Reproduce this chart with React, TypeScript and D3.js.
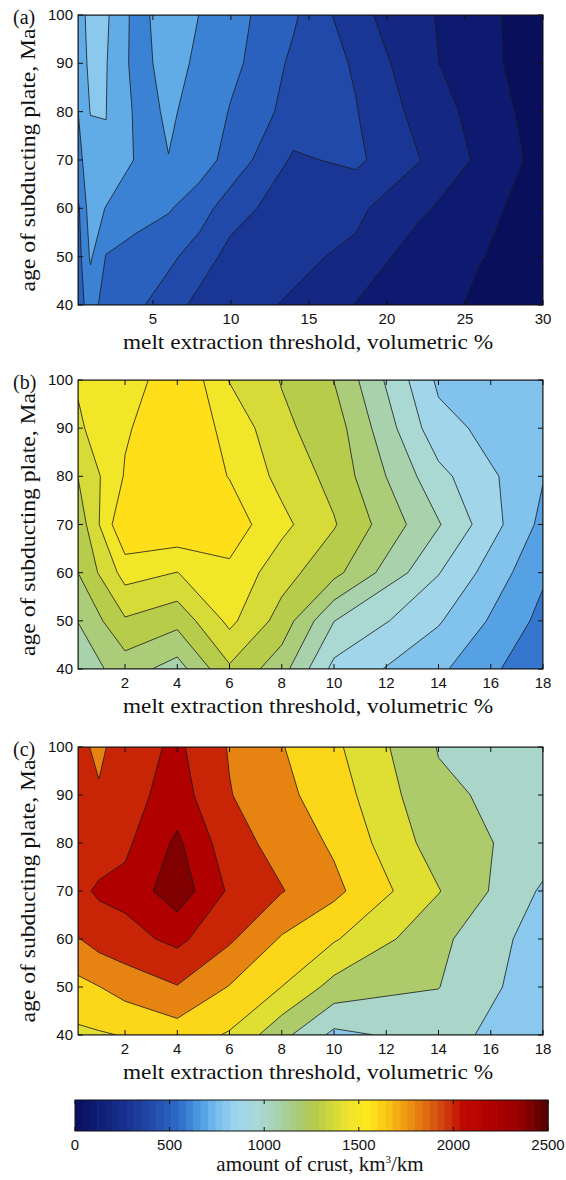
import React from 'react';
import * as d3 from 'd3';

// grid rows: age of subducting plate, Ma
const AGE = [40, 50, 60, 70, 80, 90, 100];
const AGE_TICKS = [40, 50, 60, 70, 80, 90, 100];

// grid columns: melt extraction threshold, vol %
const MELT_A = [0.2, 1, 2, 4, 6, 8, 10, 14, 18, 22, 26, 30];
const MELT_B = [0.2, 2, 4, 6, 8, 10, 14, 18];
const MELT_C = [0.2, 1, 2, 4, 6, 8, 10, 14, 18];

const TICKS_A = [5, 10, 15, 20, 25, 30];
const TICKS_BC = [2, 4, 6, 8, 10, 12, 14, 16, 18];

// amount of crust (km3/km), one row per age (40 Ma first)
const CRUST_A = [
  [570, 630, 570, 515, 455, 363, 330, 290, 195, 150, 81, 40],
  [560, 714, 595, 560, 520, 458, 360, 320, 281, 140, 103, 60],
  [580, 755, 695, 640, 610, 540, 450, 330, 320, 225, 114, 77],
  [678, 740, 795, 687, 699, 650, 560, 385, 420, 305, 180, 64],
  [699, 805, 801, 680, 707, 683, 591, 461, 405, 270, 162, 49],
  [750, 820, 805, 660, 740, 680, 630, 480, 389, 230, 140, 30],
  [760, 830, 815, 660, 760, 698, 640, 515, 330, 225, 130, 40],
];

const CRUST_B = [
  [1040, 1147, 1056, 1285, 1140, 870, 720, 520],
  [1102, 1288, 1232, 1425, 1260, 1002, 810, 570],
  [1200, 1439, 1398, 1478, 1340, 1230, 905, 615],
  [1235, 1600, 1590, 1554, 1427, 1308, 1008, 672],
  [1302, 1508, 1580, 1496, 1370, 1268, 930, 705],
  [1385, 1490, 1564, 1476, 1320, 1250, 834, 715],
  [1410, 1416, 1605, 1395, 1295, 1198, 781, 740],
];

const CRUST_C = [
  [1560, 1580, 1610, 1700, 1580, 1260, 950, 1080, 851],
  [1740, 1795, 1880, 1990, 1790, 1598, 1330, 1205, 870],
  [1990, 2080, 2130, 2250, 2030, 1780, 1620, 1250, 900],
  [2150, 2230, 2260, 2520, 2170, 2010, 1850, 1410, 970],
  [2080, 2100, 2160, 2440, 2080, 1930, 1770, 1300, 1110],
  [2060, 2020, 2120, 2290, 2010, 1850, 1700, 1235, 1120],
  [2050, 1960, 2100, 2240, 1985, 1810, 1640, 1190, 1100],
];

const LEVELS_A = [100, 200, 300, 400, 500, 600, 700, 800];
const LEVELS_B = [500, 600, 700, 800, 900, 1000, 1100, 1200, 1300, 1400, 1500];
const LEVELS_C = [800, 1000, 1200, 1400, 1600, 1800, 2000, 2200, 2400];

const CBAR_TICKS = [0, 500, 1000, 1500, 2000, 2500];

// colour map
const CMAP_AT = [0, 150, 300, 450, 550, 650, 750, 850, 950, 1050, 1150, 1250, 1350, 1450, 1550, 1650, 1750, 1850, 1950, 2050, 2200, 2350, 2500];
const CMAP_COLORS = [
  '#0a0f5c', '#10207a', '#1a3694', '#2553b4', '#2e6cc8', '#4a98e0', '#78bdee', '#9ed3ee',
  '#aad9da', '#a8d3b8', '#a9cd86', '#b0c850', '#cfd73a', '#eee52c', '#ffe81c', '#f9c515',
  '#ee9912', '#e06d10', '#d0400e', '#c00a00', '#b00000', '#980000', '#500000',
];

const cmap = d3.scaleLinear<string>().domain(CMAP_AT).range(CMAP_COLORS).clamp(true);

const LEFT = 78;
const RIGHT = 543;
const SANS = '"Liberation Sans", Arial, sans-serif';
const SERIF = '"Liberation Serif", "Times New Roman", serif';

function Panel({ id, melt, crust, levels, shift, ticks, top, bottom, tag }) {
  const x = d3.scaleLinear().domain([melt[0], melt[melt.length - 1]]).range([LEFT, RIGHT]);
  const y = d3.scaleLinear().domain([40, 100]).range([bottom, top]);
  const n = melt.length;
  const m = AGE.length;
  const col = d3.scaleLinear().domain(melt.map((_, i) => i)).range(melt).clamp(true);
  const row = d3.scaleLinear().domain(AGE.map((_, i) => i)).range(AGE).clamp(true);
  const proj = d3.geoTransform({
    point(px, py) {
      this.stream.point(x(col(px - 0.5)), y(row(py - 0.5)));
    },
  });
  const path = d3.geoPath(proj);
  const bands = d3.contours().size([n, m]).thresholds(levels)(crust.flat());
  const step = levels[1] - levels[0];
  const mid = (top + bottom) / 2;

  return (
    <g>
      <defs>
        <clipPath id={id}>
          <rect x={LEFT} y={top} width={RIGHT - LEFT} height={bottom - top} />
        </clipPath>
      </defs>
      <g clipPath={`url(#${id})`}>
        <rect x={LEFT} y={top} width={RIGHT - LEFT} height={bottom - top} fill={cmap(levels[0] - step + shift)} />
        {bands.map((b, i) => (
          <path key={i} d={path(b) || ''} fill={cmap(b.value + shift)} stroke="#1a1a1a" strokeWidth={0.8} strokeLinejoin="round" />
        ))}
      </g>
      <rect x={LEFT} y={top} width={RIGHT - LEFT} height={bottom - top} fill="none" stroke="#111" strokeWidth={1} />
      {/* x ticks, inward on both edges */}
      {ticks.map(t => (
        <g key={t}>
          <line x1={x(t)} x2={x(t)} y1={bottom} y2={bottom - 5} stroke="#111" />
          <line x1={x(t)} x2={x(t)} y1={top} y2={top + 5} stroke="#111" />
          <text x={x(t)} y={bottom + 19} textAnchor="middle" fontSize={15} fontFamily={SANS} fill="#111">{t}</text>
        </g>
      ))}
      {AGE_TICKS.map(t => (
        <g key={t}>
          <line x1={LEFT} x2={LEFT + 5} y1={y(t)} y2={y(t)} stroke="#111" />
          <line x1={RIGHT} x2={RIGHT - 5} y1={y(t)} y2={y(t)} stroke="#111" />
          <text x={73} y={y(t) + 5} textAnchor="end" fontSize={15} fontFamily={SANS} fill="#111">{t}</text>
        </g>
      ))}
      <text x={308} y={bottom + 44} textAnchor="middle" fontSize={21} fontFamily={SERIF} fill="#111"
        textLength={370} lengthAdjust="spacingAndGlyphs">
        melt extraction threshold, volumetric %
      </text>
      <text x={35} y={mid} textAnchor="middle" fontSize={21} fontFamily={SERIF} fill="#111"
        transform={`rotate(-90 35,${mid})`} textLength={263} lengthAdjust="spacingAndGlyphs">
        age of subducting plate, Ma
      </text>
      <text x={13} y={top + 9} fontSize={20} fontFamily={SERIF} fill="#111">{tag}</text>
    </g>
  );
}

function ColorBar() {
  const top = 1100;
  const bottom = 1131;
  const cx = d3.scaleLinear().domain([0, 2500]).range([75, 548]);
  const steps = d3.range(64);
  const w = (548 - 75) / 64;
  return (
    <g>
      {steps.map(i => (
        <rect key={i} x={75 + i * w} y={top} width={w + 0.6} height={bottom - top}
          fill={cmap((i + 0.5) * 2500 / 64)} />
      ))}
      <rect x={75} y={top} width={548 - 75} height={bottom - top} fill="none" stroke="#111" />
      {CBAR_TICKS.map(t => (
        <g key={t}>
          <line x1={cx(t)} x2={cx(t)} y1={top} y2={top + 4} stroke="#111" />
          <line x1={cx(t)} x2={cx(t)} y1={bottom} y2={bottom - 4} stroke="#111" />
          <text x={cx(t)} y={1150} textAnchor="middle" fontSize={15} fontFamily={SANS} fill="#111">{t}</text>
        </g>
      ))}
      <text x={320} y={1171} textAnchor="middle" fontSize={21} fontFamily={SERIF} fill="#111">
        amount of crust, km<tspan dy={-8} fontSize={11}>3</tspan><tspan dy={8}>/km</tspan>
      </text>
    </g>
  );
}

export default function App() {
  return (
    <svg width={566} height={1180} style={{ position: 'absolute', left: 0, top: 0, background: '#fff' }}>
      <Panel id="clipA" melt={MELT_A} crust={CRUST_A} levels={LEVELS_A} shift={0} ticks={TICKS_A} top={15} bottom={305} tag="(a)" />
      <Panel id="clipB" melt={MELT_B} crust={CRUST_B} levels={LEVELS_B} shift={75} ticks={TICKS_BC} top={380} bottom={669} tag="(b)" />
      <Panel id="clipC" melt={MELT_C} crust={CRUST_C} levels={LEVELS_C} shift={0} ticks={TICKS_BC} top={747} bottom={1035} tag="(c)" />
      <ColorBar />
    </svg>
  );
}
